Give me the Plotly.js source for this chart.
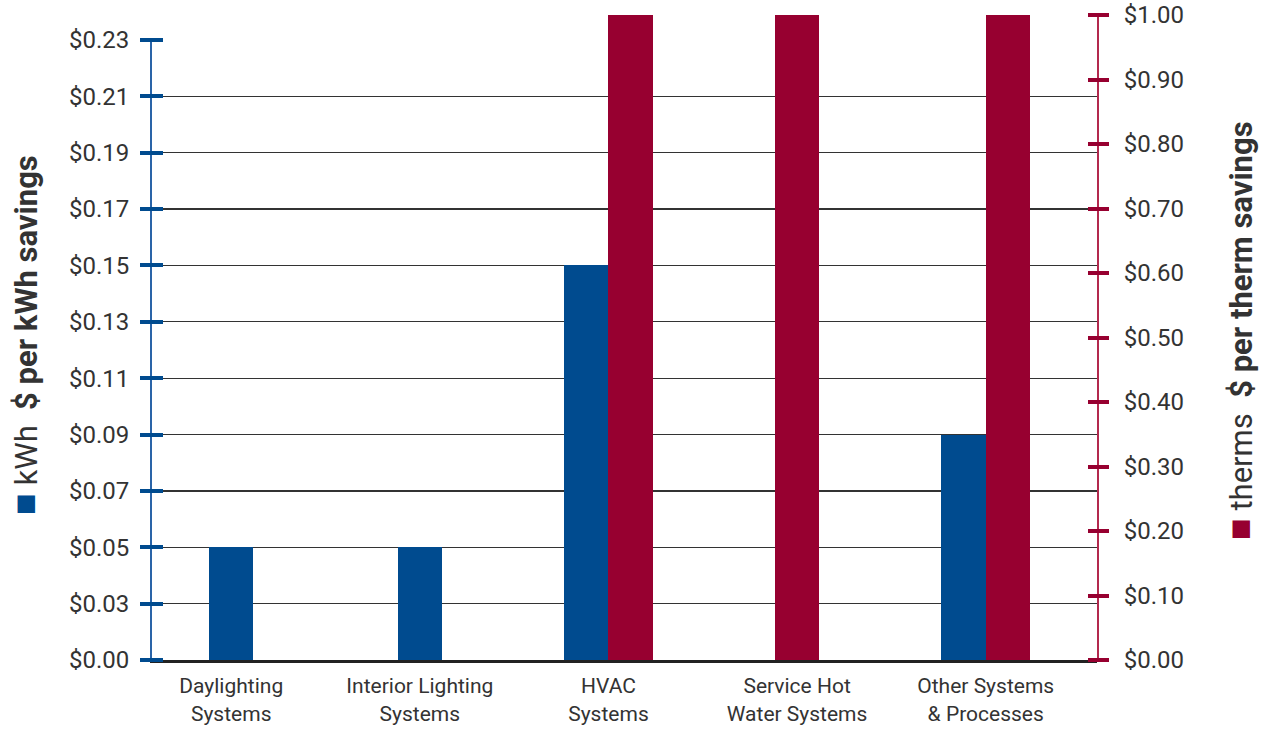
<!DOCTYPE html>
<html>
<head>
<meta charset="utf-8">
<script src="https://cdn.plot.ly/plotly-3.0.1.min.js"></script>
<style>html,body{margin:0;padding:0;background:#fff;}#chart{width:1266px;height:729px;}</style>
</head>
<body>
<div id="chart"></div>
<script>
// ---- data ----
const categories = ["Daylighting<br>Systems", "Interior Lighting<br>Systems", "HVAC<br>Systems", "Service Hot<br>Water Systems", "Other Systems<br>& Processes"];
const kwhValues = [0.05, 0.05, 0.15, null, 0.09];        // $ per kWh savings
const thermValues = [null, null, 1.00, 1.00, 1.00];      // $ per therm savings
const kwhTickVals = [0.01, 0.03, 0.05, 0.07, 0.09, 0.11, 0.13, 0.15, 0.17, 0.19, 0.21, 0.23];
const kwhTickText = ["$0.00", "$0.03", "$0.05", "$0.07", "$0.09", "$0.11", "$0.13", "$0.15", "$0.17", "$0.19", "$0.21", "$0.23"];
const thermTickVals = [0, 0.1, 0.2, 0.3, 0.4, 0.5, 0.6, 0.7, 0.8, 0.9, 1.0];
const thermTickText = ["$0.00", "$0.10", "$0.20", "$0.30", "$0.40", "$0.50", "$0.60", "$0.70", "$0.80", "$0.90", "$1.00"];
const kwhTitle = "kWh";
const kwhAxisTitle = "$ per kWh savings";
const thermTitle = "therms";
const thermAxisTitle = "$ per therm savings";

// ---- styling ----
const BLUE = "#004b8f", RED = "#970030";
const BW = 0.235;
const both = categories.map((c, i) => kwhValues[i] != null && thermValues[i] != null);
const kwhOffset = both.map(b => b ? -BW : -BW / 2);
const thermOffset = both.map(b => b ? 0 : -BW / 2);
const FONT = "Roboto, 'Open Sans', sans-serif";

const traces = [
  {type: "bar", x: categories, y: kwhValues, yaxis: "y", width: BW, offset: kwhOffset,
   marker: {color: BLUE, line: {width: 0}}, name: "kWh", hoverinfo: "y"},
  {type: "bar", x: categories, y: thermValues, yaxis: "y2", width: BW, offset: thermOffset,
   marker: {color: RED, line: {width: 0}}, name: "therms", hoverinfo: "y"},
  // carriers for the crossing tick marks (draw nothing)
  {type: "scatter", mode: "none", x: categories, y: kwhValues, yaxis: "y3", showlegend: false, hoverinfo: "skip"},
  {type: "scatter", mode: "none", x: categories, y: thermValues, yaxis: "y4", showlegend: false, hoverinfo: "skip"}
];

const PW = 945;          // plot width in px
const leftDomTop = 620 / 645;
const tickFont = {family: FONT, size: 24, color: "#333"};
const sq = c => '<span style="color:' + c + ';font-size:36px">■</span>';

const layout = {
  width: 1266, height: 729,
  margin: {l: 152, r: 169, t: 15, b: 69, pad: 0},
  paper_bgcolor: "#fff", plot_bgcolor: "rgba(0,0,0,0)",
  showlegend: false, barmode: "overlay", bargap: 0,
  font: {family: FONT, color: "#333"},
  xaxis: {
    type: "category", range: [-0.42, 4.59], anchor: "y",
    showline: true, linecolor: "#222", linewidth: 3,
    showgrid: false, ticks: "", zeroline: false,
    tickfont: {family: FONT, size: 21, color: "#333"},
    ticklabelstandoff: 5
  },
  yaxis: {
    domain: [0, leftDomTop], range: [0.01, 0.23], anchor: "x",
    tickvals: kwhTickVals, ticktext: kwhTickText, tickfont: tickFont,
    showline: true, linecolor: "#2a64a8", linewidth: 2,
    ticks: "outside", ticklen: 10, tickwidth: 4, tickcolor: BLUE,
    showgrid: true, gridcolor: "#333", gridwidth: 1.3, zeroline: false,
    ticklabelstandoff: 6
  },
  yaxis2: {
    domain: [0, 1], range: [0, 1.0], anchor: "x", side: "right",
    tickvals: thermTickVals, ticktext: thermTickText, tickfont: tickFont,
    showline: true, linecolor: "#b3294e", linewidth: 2,
    ticks: "outside", ticklen: 10, tickwidth: 4, tickcolor: RED,
    showgrid: false, zeroline: false,
    ticklabelstandoff: 10
  },
  yaxis3: {
    overlaying: "y", range: [0.01, 0.23], anchor: "free", position: 11 / PW, side: "left",
    tickvals: kwhTickVals, showticklabels: false,
    ticks: "outside", ticklen: 21, tickwidth: 4, tickcolor: BLUE,
    showline: false, showgrid: false, zeroline: false
  },
  yaxis4: {
    overlaying: "y2", range: [0, 1.0], anchor: "free", position: 1 - 10 / PW, side: "right",
    tickvals: thermTickVals, showticklabels: false,
    ticks: "outside", ticklen: 20, tickwidth: 4, tickcolor: RED,
    showline: false, showgrid: false, zeroline: false
  },
  annotations: [
    {xref: "paper", yref: "paper", x: (25 - 152) / PW, y: (660 - 335) / 645, textangle: -90,
     showarrow: false, xanchor: "center", yanchor: "middle",
     font: {family: FONT, size: 31, color: "#333"},
     text: sq(BLUE) + ' ' + kwhTitle + '  <b>' + kwhAxisTitle + '</b>'},
    {xref: "paper", yref: "paper", x: (1240 - 152) / PW, y: (660 - 331) / 645, textangle: -90,
     showarrow: false, xanchor: "center", yanchor: "middle",
     font: {family: FONT, size: 31, color: "#333"},
     text: sq(RED) + ' ' + thermTitle + '  <b>' + thermAxisTitle + '</b>'}
  ]
};

Plotly.newPlot("chart", traces, layout, {displayModeBar: false, staticPlot: true});
</script>
</body>
</html>
